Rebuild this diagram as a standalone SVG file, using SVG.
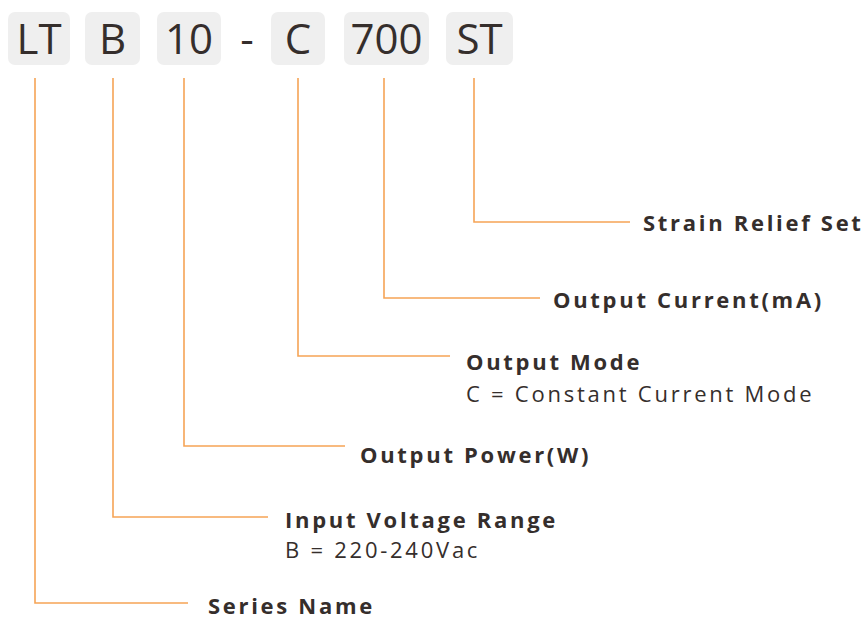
<svg xmlns="http://www.w3.org/2000/svg" width="864" height="619" viewBox="0 0 864 619">
<style>
.box{fill:#efefef}
.code{font-family:"Open Sans","Noto Sans",sans-serif;font-size:42px;fill:#352e2c;text-anchor:middle}
.lbl{font-family:"Open Sans","Noto Sans",sans-serif;font-size:22px;font-weight:bold;fill:#352e2c;letter-spacing:2.7px}
.sub{font-family:"Open Sans","Noto Sans",sans-serif;font-size:22px;fill:#352e2c;letter-spacing:2.75px}
.conn{fill:none;stroke:#f6a456;stroke-width:1.6}
</style>
<rect width="864" height="619" fill="#ffffff"/>
<g id="code-LT"><rect class="box" x="8" y="12" width="62" height="53" rx="7"/><text class="code" x="39" y="54">LT</text></g>
<g id="code-B"><rect class="box" x="85" y="12" width="55" height="53" rx="7"/><text class="code" x="112.5" y="54">B</text></g>
<g id="code-10"><rect class="box" x="157" y="12" width="64" height="53" rx="7"/><text class="code" x="189" y="54">10</text></g>
<g id="dash"><text class="code" x="247" y="54">-</text></g>
<g id="code-C"><rect class="box" x="271" y="12" width="54" height="53" rx="7"/><text class="code" x="298" y="54">C</text></g>
<g id="code-700"><rect class="box" x="344" y="12" width="85" height="53" rx="7"/><text class="code" x="386.5" y="54">700</text></g>
<g id="code-ST"><rect class="box" x="446" y="12" width="67" height="53" rx="7"/><text class="code" x="479.5" y="54">ST</text></g>
<g id="connectors">
<polyline class="conn" points="474,78 474,222 630,222"/>
<polyline class="conn" points="384,78 384,298 540,298"/>
<polyline class="conn" points="298,78 298,356 450,356"/>
<polyline class="conn" points="184,78 184,446 345,446"/>
<polyline class="conn" points="113,78 113,517 268,517"/>
<polyline class="conn" points="35,78 35,603 188,603"/>
</g>
<g id="label-st"><text class="lbl" x="643" y="231">Strain Relief Set</text></g>
<g id="label-700"><text class="lbl" x="553" y="308">Output Current(mA)</text></g>
<g id="label-c"><text class="lbl" x="466" y="370">Output Mode</text><text class="sub" x="466" y="402">C = Constant Current Mode</text></g>
<g id="label-10"><text class="lbl" x="360" y="463">Output Power(W)</text></g>
<g id="label-b"><text class="lbl" x="285" y="528">Input Voltage Range</text><text class="sub" x="285" y="558">B = 220-240Vac</text></g>
<g id="label-lt"><text class="lbl" x="208" y="614">Series Name</text></g>
</svg>
